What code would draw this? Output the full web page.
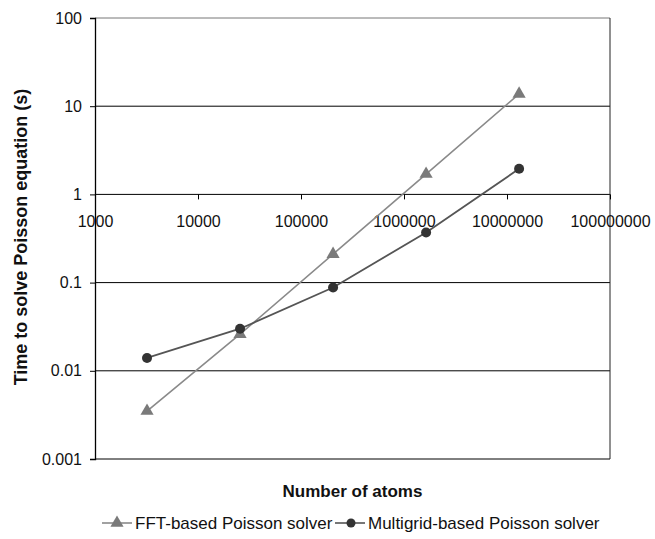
<!DOCTYPE html>
<html>
<head>
<meta charset="utf-8">
<script src="https://cdn.jsdelivr.net/npm/d3@7"></script>
<style>
  body { margin: 0; background: #fff; }
  svg { font-family: "Liberation Sans", Arial, sans-serif; }
</style>
</head>
<body>
<div id="chart"></div>
<script>
const atoms = [3200, 25600, 204800, 1638400, 13107200];
const fftTimes = [0.0035, 0.026, 0.21, 1.7, 13.8];
const multigridTimes = [0.014, 0.03, 0.088, 0.37, 1.95];
const xTicks = [1e3, 1e4, 1e5, 1e6, 1e7, 1e8];
const yTicks = [0.001, 0.01, 0.1, 1, 10, 100];
const seriesNames = ["FFT-based Poisson solver", "Multigrid-based Poisson solver"];

const width = 655;
const height = 539;
const margin = { top: 18, right: 45, bottom: 80, left: 95 };

const svg = d3
  .select("#chart")
  .append("svg")
  .attr("width", width)
  .attr("height", height);

const x = d3
  .scaleLog()
  .domain([1e3, 1e8])
  .range([margin.left, width - margin.right]);

const y = d3
  .scaleLog()
  .domain([0.001, 100])
  .range([height - margin.bottom, margin.top]);

// horizontal grid lines
svg
  .append("g")
  .selectAll("line")
  .data(yTicks)
  .enter()
  .append("line")
  .attr("x1", margin.left)
  .attr("x2", width - margin.right)
  .attr("y1", (d) => y(d))
  .attr("y2", (d) => y(d))
  .attr("stroke", (d) => (d === 100 ? "#777" : "#000"))
  .attr("stroke-width", 1);

// right border
svg
  .append("line")
  .attr("x1", width - margin.right)
  .attr("x2", width - margin.right)
  .attr("y1", margin.top)
  .attr("y2", height - margin.bottom)
  .attr("stroke", "#222");

// y axis
const yAxis = d3
  .axisLeft(y)
  .tickValues(yTicks)
  .tickFormat((d) => String(d))
  .tickSize(5)
  .tickPadding(8);

svg
  .append("g")
  .attr("transform", `translate(${margin.left},0)`)
  .call(yAxis)
  .call((g) => g.select(".domain").attr("stroke", "#000").attr("stroke-width", 1.3))
  .call((g) => g.selectAll(".tick line").attr("stroke", "#000"))
  .call((g) =>
    g.selectAll("text").attr("font-size", "16px").attr("fill", "#111")
      .attr("font-family", "Liberation Sans, Arial, sans-serif")
  );

// x axis crosses at y = 1
const xAxis = d3
  .axisBottom(x)
  .tickValues(xTicks)
  .tickFormat((d) => String(d))
  .tickSize(5)
  .tickSizeOuter(0)
  .tickPadding(16);

svg
  .append("g")
  .attr("transform", `translate(0,${y(1)})`)
  .call(xAxis)
  .call((g) => g.select(".domain").remove())
  .call((g) => g.selectAll(".tick line").attr("stroke", "#000"))
  .call((g) =>
    g.selectAll("text").attr("font-size", "16px").attr("fill", "#111")
      .attr("font-family", "Liberation Sans, Arial, sans-serif")
  );

// lines
const fftData = atoms.map((a, i) => ({ x: a, y: fftTimes[i] }));
const mgData = atoms.map((a, i) => ({ x: a, y: multigridTimes[i] }));

const line = d3
  .line()
  .x((d) => x(d.x))
  .y((d) => y(d.y));

svg
  .append("path")
  .datum(fftData)
  .attr("fill", "none")
  .attr("stroke", "#8a8a8a")
  .attr("stroke-width", 1.6)
  .attr("d", line);

svg
  .append("path")
  .datum(mgData)
  .attr("fill", "none")
  .attr("stroke", "#555")
  .attr("stroke-width", 1.8)
  .attr("d", line);

const triangle = d3.symbol().type(d3.symbolTriangle).size(75);

svg
  .selectAll(".tri")
  .data(fftData)
  .enter()
  .append("path")
  .attr("class", "tri")
  .attr("d", triangle)
  .attr("transform", (d) => `translate(${x(d.x)},${y(d.y)})`)
  .attr("fill", "#7a7a7a");

svg
  .selectAll(".dot")
  .data(mgData)
  .enter()
  .append("circle")
  .attr("class", "dot")
  .attr("cx", (d) => x(d.x))
  .attr("cy", (d) => y(d.y))
  .attr("r", 5)
  .attr("fill", "#333");

// Y-axis label
svg
  .append("text")
  .attr("transform", "rotate(-90)")
  .attr("x", -237)
  .attr("y", 27)
  .attr("text-anchor", "middle")
  .attr("font-size", "18px")
  .attr("font-weight", "bold")
  .attr("fill", "#111")
  .text("Time to solve Poisson equation (s)");

// X-axis label
svg
  .append("text")
  .attr("x", (margin.left + width - margin.right) / 2)
  .attr("y", 497)
  .attr("text-anchor", "middle")
  .attr("font-size", "17px")
  .attr("font-weight", "bold")
  .attr("fill", "#111")
  .text("Number of atoms");

// Legend
const legend = svg.append("g").attr("transform", "translate(0,523)");
const legendX = [102, 335];

legend
  .selectAll("line")
  .data(seriesNames)
  .enter()
  .append("line")
  .attr("x1", (d, i) => legendX[i])
  .attr("x2", (d, i) => legendX[i] + 30)
  .attr("y1", 0)
  .attr("y2", 0)
  .attr("stroke", (d, i) => (i === 0 ? "#8a8a8a" : "#555"))
  .attr("stroke-width", 1.6);

legend
  .append("path")
  .attr("d", triangle)
  .attr("transform", `translate(${legendX[0] + 15},0)`)
  .attr("fill", "#7a7a7a");

legend
  .append("circle")
  .attr("cx", legendX[1] + 16)
  .attr("cy", 0)
  .attr("r", 4.5)
  .attr("fill", "#333");

legend
  .selectAll("text")
  .data(seriesNames)
  .enter()
  .append("text")
  .attr("x", (d, i) => legendX[i] + 33)
  .attr("y", 6)
  .attr("font-size", "17px")
  .attr("fill", "#111")
  .text((d) => d);
</script>
</body>
</html>
